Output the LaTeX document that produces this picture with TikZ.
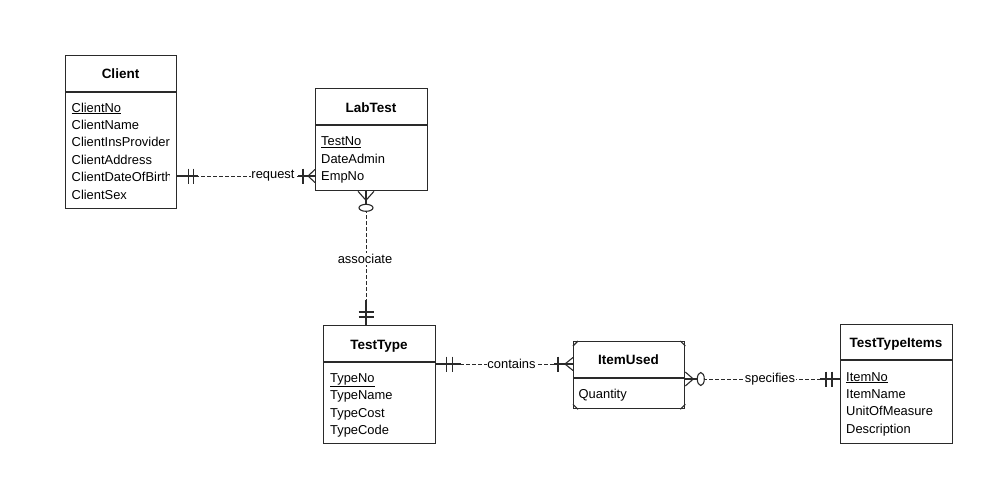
\documentclass[tikz,border=0pt]{standalone}
\usepackage{fontspec}
\setmainfont{Liberation Sans}
\definecolor{boxc}{HTML}{2A2A2A}
\definecolor{linec}{HTML}{2A2A2A}
\begin{document}
\begin{tikzpicture}[x=1pt,y=-1pt,
  ebox/.style={draw=boxc, line width=1.3pt, inner sep=0pt, anchor=north west},
  sepline/.style={draw=boxc, line width=1.3pt},
  ttl/.style={font=\fontsize{13.5}{16}\selectfont\bfseries, anchor=base, inner sep=0pt, text=black},
  att/.style={font=\fontsize{12.9}{15}\selectfont, anchor=base west, inner sep=0pt, text=black},
  conn/.style={draw=linec, line width=1pt, dash pattern=on 3.5pt off 2.5pt},
  crow/.style={draw=linec, line width=1.1pt},
  lbl/.style={font=\fontsize{12.9}{15}\selectfont, fill=white, inner sep=0.8pt, text=black}
]
\useasboundingbox[fill=white] (0,0) rectangle (997,477);

% ---------- Entities ----------
\node[ebox, minimum width=111pt, minimum height=153pt] (client) at (65,55) {};
\draw[sepline] (client.west |- 0,92) -- (client.east |- 0,92);
\node[ttl] (clientT) at (120.5,78) {Client};
\node[att] (c1) at (71.5,112) {\underline{ClientNo}};
\node[att] (c2) at (71.5,129.4) {ClientName};
\node[att] (c3) at (71.5,146.8) {ClientInsProvider};
\node[att] (c4) at (71.5,164.2) {ClientAddress};
\begin{scope}
  \clip (65,150) rectangle (169.5,190);
  \node[att] (c5) at (71.5,181.6) {ClientDateOfBirth};
\end{scope}
\node[att] (c6) at (71.5,199) {ClientSex};

\node[ebox, minimum width=112pt, minimum height=102pt] (labtest) at (315,88) {};
\draw[sepline] (labtest.west |- 0,125) -- (labtest.east |- 0,125);
\node[ttl] (labtestT) at (371,112.5) {LabTest};
\node[att] (l1) at (321,145.5) {\underline{TestNo}};
\node[att] (l2) at (321,163) {DateAdmin};
\node[att] (l3) at (321,180.5) {EmpNo};

\node[ebox, minimum width=112pt, minimum height=118pt] (testtype) at (323,325) {};
\draw[sepline] (testtype.west |- 0,362) -- (testtype.east |- 0,362);
\node[ttl] (testtypeT) at (379,349) {TestType};
\node[att] (t1) at (330,382) {\underline{TypeNo}};
\node[att] (t2) at (330,399.5) {TypeName};
\node[att] (t3) at (330,417) {TypeCost};
\node[att] (t4) at (330,434.5) {TypeCode};

\node[ebox, minimum width=111pt, minimum height=67pt] (itemused) at (573,341) {};
\draw[sepline] (itemused.west |- 0,378) -- (itemused.east |- 0,378);
\draw[crow] (itemused.north west) ++(5,0) -- ++(-5,5);
\draw[crow] (itemused.north east) ++(-5,0) -- ++(5,5);
\draw[crow] (itemused.south west) ++(5,0) -- ++(-5,-5);
\draw[crow] (itemused.south east) ++(-5,0) -- ++(5,-5);
\node[ttl] (itemusedT) at (628.5,364) {ItemUsed};
\node[att] (i1) at (578.5,398) {Quantity};

\node[ebox, minimum width=112pt, minimum height=119pt] (tti) at (840,324) {};
\draw[sepline] (tti.west |- 0,360) -- (tti.east |- 0,360);
\node[ttl] (ttiT) at (896,347) {TestTypeItems};
\node[att] (x1) at (846,381) {\underline{ItemNo}};
\node[att] (x2) at (846,398.5) {ItemName};
\node[att] (x3) at (846,415) {UnitOfMeasure};
\node[att] (x4) at (846,433) {Description};

% ---------- request: Client (one) -- LabTest (one or many) ----------
\coordinate (reqA) at (client.east |- 0,176);
\coordinate (reqB) at (labtest.west |- 0,176);
\draw[conn] (reqA) -- (reqB);
\draw[crow] (reqA) -- ++(21,0);
\draw[crow] (reqA) ++(11,-7.5) -- ++(0,15);
\draw[crow] (reqA) ++(16,-7.5) -- ++(0,15);
\draw[crow] (reqB) -- ++(-17,0);
\draw[crow] (reqB) ++(-12,-7.5) -- ++(0,15);
\draw[crow] (reqB) ++(0,-6.5) -- ++(-7,6.5) -- ++(7,6.5);
\node[lbl] (reqL) at (273,176) {request};

% ---------- associate: LabTest (zero or many) -- TestType (one) ----------
\coordinate (asA) at (labtest.south -| 366,0);
\coordinate (asB) at (testtype.north -| 366,0);
\draw[conn] (asA) -- (asB);
\draw[crow] (asA) -- ++(0,13);
\draw[crow] (asA) ++(-8,0) -- ++(8,9) -- ++(8,-9);
\draw[crow, fill=white] (asA) ++(0,16.5) ellipse [x radius=7, y radius=3.5];
\draw[crow] (asB) -- ++(0,-25);
\draw[crow] (asB) ++(-7.5,-13) -- ++(15,0);
\draw[crow] (asB) ++(-7.5,-8) -- ++(15,0);
\node[lbl] (asL) at (365,259) {associate};

% ---------- contains: TestType (one) -- ItemUsed (one or many) ----------
\coordinate (coA) at (testtype.east |- 0,364);
\coordinate (coB) at (itemused.west |- 0,364);
\draw[conn] (coA) -- (coB);
\draw[crow] (coA) -- ++(25,0);
\draw[crow] (coA) ++(10,-7.5) -- ++(0,15);
\draw[crow] (coA) ++(16,-7.5) -- ++(0,15);
\draw[crow] (coB) -- ++(-19,0);
\draw[crow] (coB) ++(-15,-7.5) -- ++(0,15);
\draw[crow] (coB) ++(0,-6.5) -- ++(-8,6.5) -- ++(8,6.5);
\node[lbl] (coL) at (511.5,364) {contains};

% ---------- specifies: ItemUsed (zero or many) -- TestTypeItems (one) ----------
\coordinate (spA) at (itemused.east |- 0,379);
\coordinate (spB) at (tti.west |- 0,379);
\draw[conn] (spA) -- (spB);
\draw[crow] (spA) -- ++(12,0);
\draw[crow] (spA) ++(0,-7) -- ++(8,7) -- ++(-8,7);
\draw[crow, fill=white] (spA) ++(15.5,0) ellipse [x radius=3.5, y radius=6.5];
\draw[crow] (spB) -- ++(-20,0);
\draw[crow] (spB) ++(-14,-7.5) -- ++(0,15);
\draw[crow] (spB) ++(-8,-7.5) -- ++(0,15);
\node[lbl] (spL) at (770,379) {specifies};
\end{tikzpicture}
\end{document}
